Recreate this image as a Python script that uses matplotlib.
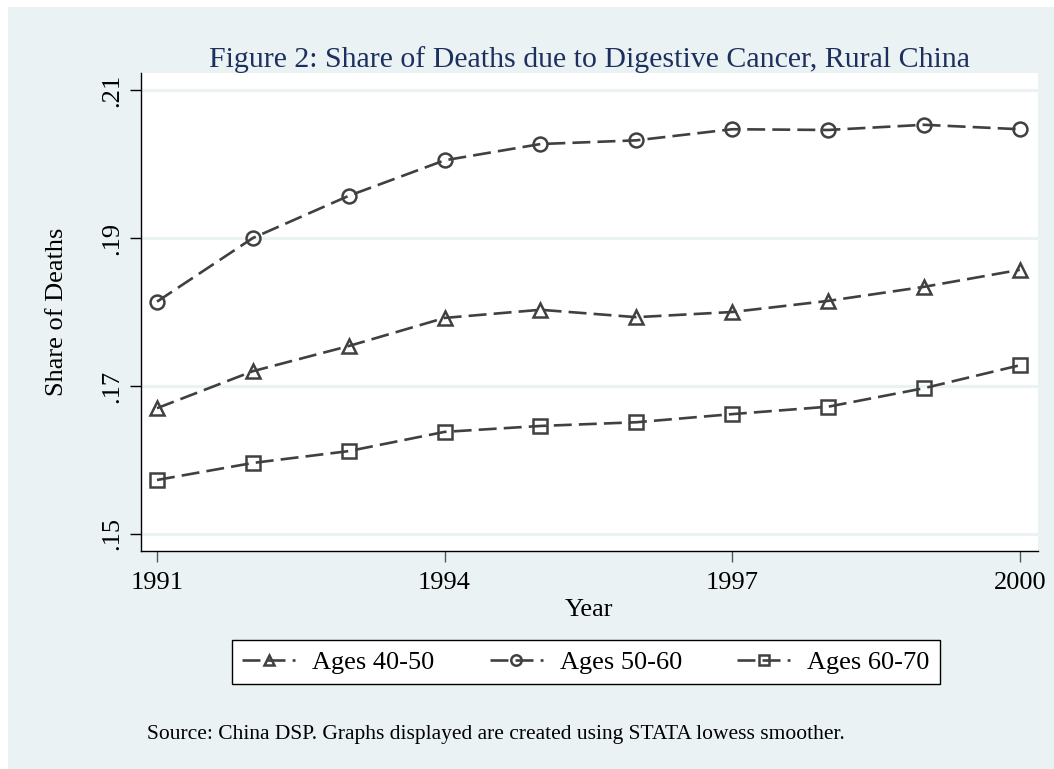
import matplotlib
matplotlib.use("Agg")
import matplotlib.pyplot as plt
from matplotlib.patches import Rectangle

years = [1991, 1992, 1993, 1994, 1995, 1996, 1997, 1998, 1999, 2000]
ages_40_50 = [.1670, .1720, .1754, .1792, .1803, .1793, .1800, .1815, .1834, .1857]
ages_50_60 = [.1814, .1900, .1957, .2005, .2027, .2032, .2047, .2046, .2053, .2047]
ages_60_70 = [.1573, .1596, .1612, .1638, .1646, .1651, .1662, .1672, .1697, .1728]

xticks = [1991, 1994, 1997, 2000]
yticks = [.15, .17, .19, .21]
ytick_labels = ['.15', '.17', '.19', '.21']

bg = '#EAF2F3'
line_col = '#404040'
plt.rcParams['font.family'] = ['Liberation Serif', 'DejaVu Serif']

fig = plt.figure(figsize=(10.54, 7.69), dpi=100, facecolor='white')
fig.patches.append(Rectangle((8 / 1054, 0), 1, 1 - 7 / 769, transform=fig.transFigure,
                             facecolor=bg, edgecolor='none', zorder=-10))

ax = fig.add_axes([141 / 1054, 1 - 551 / 769, (1038 - 141) / 1054, (551 - 73) / 769])
ax.set_facecolor('white')

style = dict(color=line_col, lw=1.9, dashes=(6.8, 2.7), markerfacecolor='none',
             markeredgecolor=line_col, markeredgewidth=1.8, markersize=10)
ax.plot(years, ages_40_50, marker='^', label='Ages 40-50', **style)
ax.plot(years, ages_50_60, marker='o', label='Ages 50-60', **style)
ax.plot(years, ages_60_70, marker='s', label='Ages 60-70', **style)

ax.set_xlim(1990.833, 2000.19)
ax.set_ylim(.1477, .2123)
ax.set_xticks(xticks)
ax.set_yticks(yticks)
ax.set_yticklabels(ytick_labels, rotation=90, va='center')
ax.tick_params(axis='both', direction='out', length=8, width=1, labelsize=19, colors='black')
ax.tick_params(axis='x', color='#555555', pad=7)
ax.tick_params(axis='y', pad=5)
ax.grid(axis='y', color=bg, lw=2.2)
ax.set_axisbelow(True)
for s in ['top', 'right']:
    ax.spines[s].set_visible(False)
for s in ['left', 'bottom']:
    ax.spines[s].set_color('black')
    ax.spines[s].set_linewidth(1)

ax.set_xlabel('Year', fontsize=19, labelpad=4)
ax.set_ylabel('Share of Deaths', fontsize=19, labelpad=24)
ax.set_title('Figure 2: Share of Deaths due to Digestive Cancer, Rural China',
             fontsize=21.5, color='#1C2F5E', pad=4)

leg = fig.legend(loc='center', bbox_to_anchor=(586 / 1054, 1 - 662 / 769), ncol=3,
                 fontsize=19, frameon=True, fancybox=False, edgecolor='black',
                 framealpha=1, facecolor='white', markerscale=0.75,
                 handlelength=2.0, columnspacing=2.1, handletextpad=0.65,
                 borderpad=0.4)
leg.get_frame().set_linewidth(1)

fig.text(147 / 1054, 1 - 735 / 769,
         'Source: China DSP. Graphs displayed are created using STATA lowess smoother.',
         fontsize=15.5, va='center', ha='left')

fig.savefig('out.png', dpi=100, facecolor=fig.get_facecolor())
